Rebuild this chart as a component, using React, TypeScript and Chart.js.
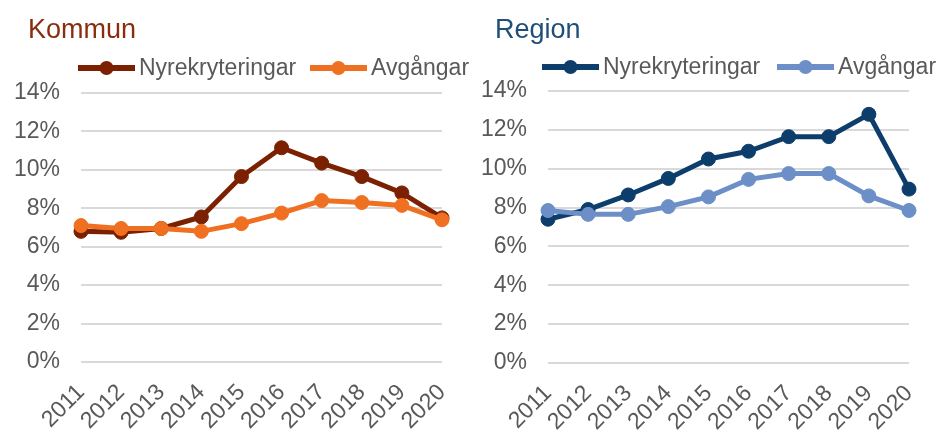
import React, { useEffect, useRef } from "react";
import { Chart, registerables } from "chart.js";

Chart.register(...registerables);

const years = ["2011", "2012", "2013", "2014", "2015", "2016", "2017", "2018", "2019", "2020"];
const kommunNyrek = [6.8, 6.75, 6.95, 7.55, 9.65, 11.15, 10.35, 9.65, 8.8, 7.5];
const kommunAvg = [7.1, 6.95, 6.95, 6.8, 7.2, 7.75, 8.4, 8.3, 8.15, 7.4];
const regionNyrek = [7.4, 7.9, 8.65, 9.5, 10.5, 10.9, 11.65, 11.65, 12.8, 8.95];
const regionAvg = [7.85, 7.65, 7.65, 8.05, 8.55, 9.45, 9.75, 9.75, 8.6, 7.85];
const seriesNames = ["Nyrekryteringar", "Avgångar"];
const yMin = 0;
const yMax = 14;
const yStep = 2;

const FONT = "'Liberation Sans', Arial, sans-serif";
const GRAY = "#595959";

type Cfg = {
  title: string;
  titleColor: string;
  titleX: number;
  colors: [string, string];
  data: [number[], number[]];
  legendX: [number, number];
  legendY: number;
  pad: { top: number; right: number };
  yWidth: number;
  xHeight: number;
  width: number;
};

function makeOverlay(cfg: Cfg) {
  return {
    id: "overlay",
    afterDraw(chart: any) {
      const ctx = chart.ctx as CanvasRenderingContext2D;
      ctx.save();
      ctx.font = `27px ${FONT}`;
      ctx.fillStyle = cfg.titleColor;
      ctx.textBaseline = "alphabetic";
      ctx.textAlign = "left";
      ctx.fillText(cfg.title, cfg.titleX, 38);
      ctx.font = `23px ${FONT}`;
      for (let i = 0; i < 2; i++) {
        const x = cfg.legendX[i];
        const y = cfg.legendY;
        ctx.strokeStyle = cfg.colors[i];
        ctx.lineWidth = 6;
        ctx.lineCap = "butt";
        ctx.beginPath();
        ctx.moveTo(x, y);
        ctx.lineTo(x + 57, y);
        ctx.stroke();
        ctx.fillStyle = cfg.colors[i];
        ctx.beginPath();
        ctx.arc(x + 28.5, y, 7, 0, Math.PI * 2);
        ctx.fill();
        ctx.fillStyle = GRAY;
        ctx.textBaseline = "middle";
        ctx.fillText(seriesNames[i], x + 61, y + 1);
      }
      ctx.restore();
    },
  };
}

function LineChart({ cfg }: { cfg: Cfg }) {
  const ref = useRef<HTMLCanvasElement | null>(null);
  useEffect(() => {
    if (!ref.current) return;
    const chart = new Chart(ref.current, {
      type: "line",
      data: {
        labels: years,
        datasets: cfg.data.map((d, i) => ({
          label: seriesNames[i],
          data: d,
          borderColor: cfg.colors[i],
          backgroundColor: cfg.colors[i],
          pointBackgroundColor: cfg.colors[i],
          pointBorderColor: cfg.colors[i],
          borderWidth: 5,
          pointRadius: 7,
          pointBorderWidth: 1,
          tension: 0,
          order: i === 0 ? 1 : 0,
        })),
      },
      options: {
        animation: false,
        responsive: false,
        devicePixelRatio: 1,
        layout: {
          autoPadding: false,
          padding: { top: cfg.pad.top, right: cfg.pad.right, left: 0, bottom: 0 },
        },
        plugins: {
          legend: { display: false },
          tooltip: { enabled: false },
          title: { display: false },
        },
        scales: {
          x: {
            type: "category",
            offset: false,
            grid: { display: false, drawTicks: false },
            border: { display: false },
            ticks: {
              maxRotation: 45,
              minRotation: 45,
              autoSkip: false,
              color: GRAY,
              padding: 17,
              font: { family: FONT, size: 23 },
            },
            afterFit(scale: any) {
              scale.height = cfg.xHeight;
              scale.paddingLeft = 0;
              scale.paddingRight = 0;
              scale.paddingTop = 0;
              scale.paddingBottom = 0;
            },
          },
          y: {
            min: yMin,
            max: yMax,
            grid: { color: "#D9D9D9", lineWidth: 2, drawTicks: false },
            border: { display: false },
            ticks: {
              stepSize: yStep,
              color: GRAY,
              padding: 21,
              font: { family: FONT, size: 23 },
              callback: (v: any) => `${v}%`,
            },
            afterFit(scale: any) {
              scale.width = cfg.yWidth;
              scale.paddingLeft = 0;
              scale.paddingRight = 0;
              scale.paddingTop = 0;
              scale.paddingBottom = 0;
            },
          },
        },
      },
      plugins: [makeOverlay(cfg)],
    } as any);
    return () => chart.destroy();
  }, [cfg]);
  return <canvas ref={ref} width={cfg.width} height={430} style={{ width: cfg.width, height: 430, display: "block" }} />;
}

const kommunCfg: Cfg = {
  title: "Kommun",
  titleColor: "#8A2D0E",
  titleX: 28,
  colors: ["#7B2000", "#F07022"],
  data: [kommunNyrek, kommunAvg],
  legendX: [78, 310],
  legendY: 68,
  pad: { top: 93, right: 28 },
  yWidth: 81,
  xHeight: 68,
  width: 470,
};

const regionCfg: Cfg = {
  title: "Region",
  titleColor: "#1F4E79",
  titleX: 25,
  colors: ["#0D3D6B", "#6B8FC6"],
  data: [regionNyrek, regionAvg],
  legendX: [72, 307],
  legendY: 67,
  pad: { top: 91, right: 30 },
  yWidth: 78,
  xHeight: 67,
  width: 469,
};

export default function App() {
  return (
    <div style={{ position: "absolute", left: 0, top: 0, width: 939, height: 430, background: "#fff" }}>
      <div style={{ position: "absolute", left: 0, top: 0 }}>
        <LineChart cfg={kommunCfg} />
      </div>
      <div style={{ position: "absolute", left: 470, top: 0 }}>
        <LineChart cfg={regionCfg} />
      </div>
    </div>
  );
}
